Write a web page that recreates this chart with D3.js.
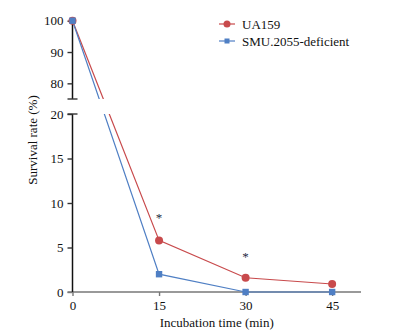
<!DOCTYPE html>
<html><head><meta charset="utf-8">
<script src="https://cdn.jsdelivr.net/npm/d3@7/dist/d3.min.js"></script>
<style>
body{margin:0;background:#fff;}
text{font-family:"Liberation Serif","Times New Roman",serif;}
</style></head>
<body><svg id="c" width="403" height="334"></svg>
<script>
const times = [0, 15, 30, 45];
const ua159 = [100, 5.8, 1.6, 0.9];
const smu2055 = [100, 2.0, 0, 0];
const seriesNames = ["UA159", "SMU.2055-deficient"];
const xTicks = [0, 15, 30, 45];
const yTicksLow = [0, 5, 10, 15, 20];
const yTicksHigh = [80, 90, 100];
const sigTimes = [15, 30];
const sigValues = [8.7, 4.3];

const svg = d3.select("#c");
const red = "#c84a4c", blue = "#4f7fc4";

const x = d3.scaleLinear().domain([0, 50]).range([72.5, 361]);
const yLow = d3.scaleLinear().domain([0, 20]).range([292, 114]);
const yHigh = d3.scaleLinear().domain([75, 100]).range([99, 20.7]);
const y = v => v <= 20 ? yLow(v) : yHigh(v);

// clip paths for broken axis
const defs = svg.append("defs");
defs.append("clipPath").attr("id", "clipHigh").append("rect")
  .attr("x", 0).attr("y", 0).attr("width", 403).attr("height", yHigh(75));
defs.append("clipPath").attr("id", "clipLow").append("rect")
  .attr("x", 0).attr("y", yLow(20)).attr("width", 403).attr("height", 334 - yLow(20));

// x axis
const xAxis = svg.append("g").attr("transform", `translate(0,${yLow(0)})`)
  .call(d3.axisBottom(x).tickValues(xTicks).tickSize(4).tickSizeOuter(0).tickPadding(5));
xAxis.select(".domain").attr("stroke", "#777").attr("stroke-width", 1.6)
  .attr("d", `M${x(0) - 5},0H${x(50)}`);
xAxis.selectAll(".tick line").attr("stroke", "#777").attr("stroke-width", 1.4);
xAxis.selectAll(".tick text").attr("font-size", 13).attr("fill", "#111")
  .attr("font-family", "Liberation Serif, serif");

// y axes
function styleY(g) {
  g.select(".domain").attr("stroke", "#111").attr("stroke-width", 1.5);
  g.selectAll(".tick line").attr("stroke", "#333").attr("stroke-width", 1.4);
  g.selectAll(".tick text").attr("font-size", 13).attr("fill", "#111")
    .attr("font-family", "Liberation Serif, serif");
}
const yAxH = svg.append("g").attr("transform", `translate(${x(0)},0)`)
  .call(d3.axisLeft(yHigh).tickValues(yTicksHigh).tickSize(5).tickSizeOuter(0).tickPadding(4));
styleY(yAxH);
yAxH.select(".domain").attr("d", `M0,${yHigh(100)}V${yHigh(75)}`);
const yAxL = svg.append("g").attr("transform", `translate(${x(0)},0)`)
  .call(d3.axisLeft(yLow).tickValues(yTicksLow).tickSize(5).tickSizeOuter(0).tickPadding(4));
styleY(yAxL);
yAxL.select(".domain").attr("d", `M0,${yLow(20)}V${yLow(0)}`);
yAxL.selectAll(".tick").filter(d => d === 0).select("line").attr("stroke", "#777");
// break caps
[yHigh(75), yLow(20)].forEach(py => {
  svg.append("line").attr("x1", x(0) - 5).attr("x2", x(0) + 5)
    .attr("y1", py).attr("y2", py).attr("stroke", "#333").attr("stroke-width", 1.4);
});

// series
const series = [
  {name: seriesNames[0], vals: ua159, color: red, shape: "circle"},
  {name: seriesNames[1], vals: smu2055, color: blue, shape: "square"}
];
const line = d3.line().x(d => x(d.t)).y(d => y(d.v));
series.forEach(s => {
  const pts = times.map((t, i) => ({t, v: s.vals[i]}));
  ["clipHigh", "clipLow"].forEach(cid => {
    svg.append("path").datum(pts).attr("d", line)
      .attr("fill", "none").attr("stroke", s.color).attr("stroke-width", 1.2)
      .attr("clip-path", `url(#${cid})`);
  });
});
series.forEach(s => {
  const pts = times.map((t, i) => ({t, v: s.vals[i]}));
  if (s.shape === "circle") {
    svg.selectAll(null).data(pts).enter().append("circle")
      .attr("cx", d => x(d.t)).attr("cy", d => y(d.v)).attr("r", 4).attr("fill", s.color);
  } else {
    svg.selectAll(null).data(pts).enter().append("rect")
      .attr("x", d => x(d.t) - 3.2).attr("y", d => y(d.v) - 3.2)
      .attr("width", 6.4).attr("height", 6.4).attr("fill", s.color);
  }
});

// significance marks
svg.selectAll(null).data(sigTimes).enter().append("text")
  .attr("x", d => x(d)).attr("y", (d, i) => y(sigValues[i]) + 7)
  .attr("text-anchor", "middle").attr("font-size", 13).attr("fill", "#1d2b44")
  .text("*");

// axis labels
svg.append("text").attr("x", x(25)).attr("y", 327).attr("text-anchor", "middle")
  .attr("font-size", 13).attr("fill", "#111").text("Incubation time (min)");
svg.append("text").attr("transform", `translate(37,140) rotate(-90)`)
  .attr("text-anchor", "middle").attr("font-size", 13).attr("fill", "#111")
  .text("Survival rate (%)");

// legend
const leg = svg.append("g");
series.forEach((s, i) => {
  const ly = 24 + i * 17;
  leg.append("line").attr("x1", 219).attr("x2", 235).attr("y1", ly).attr("y2", ly)
    .attr("stroke", s.color).attr("stroke-width", 1.2);
  if (s.shape === "circle") {
    leg.append("circle").attr("cx", 227).attr("cy", ly).attr("r", 3.5).attr("fill", s.color);
  } else {
    leg.append("rect").attr("x", 224.5).attr("y", ly - 2.5).attr("width", 5).attr("height", 5).attr("fill", s.color);
  }
  leg.append("text").attr("x", 242).attr("y", ly + 4.5).attr("font-size", 13)
    .attr("fill", "#111").text(s.name);
});
</script></body></html>
